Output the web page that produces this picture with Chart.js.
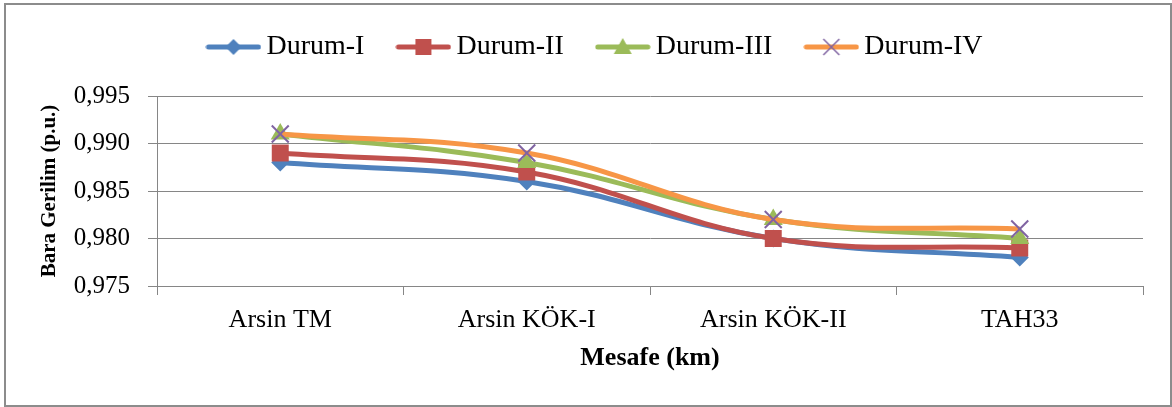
<!DOCTYPE html>
<html>
<head>
<meta charset="utf-8">
<script src="https://cdn.jsdelivr.net/npm/chart.js@4"></script>
<style>
html, body { margin: 0; padding: 0; background: #fff; }
#frame {
    position: absolute; left: 4px; top: 3px;
    width: 1168px; height: 404px;
    border: 2px solid #8c8c8c; box-sizing: border-box;
}
</style>
</head>
<body>
<div id="frame"><canvas id="gerilimChart"></canvas></div>
<script>
// Veriler
const kategoriler = ['Arsin TM', 'Arsin KÖK-I', 'Arsin KÖK-II', 'TAH33'];
const durumI   = [0.988, 0.986, 0.980, 0.978];
const durumII  = [0.989, 0.987, 0.980, 0.979];
const durumIII = [0.991, 0.988, 0.982, 0.980];
const durumIV  = [0.991, 0.989, 0.982, 0.981];
const yTicks = [0.975, 0.980, 0.985, 0.990, 0.995];

const mavi = '#4F81BD', kirmizi = '#C0504D', yesil = '#9BBB59', turuncu = '#F79646', mor = '#8064A2';
const fontAile = "'Liberation Serif', 'Times New Roman', serif";

// Lejant ikonu: çizgi + işaret
function lejantIkonu(renk, isaret) {
    const c = document.createElement('canvas');
    c.width = 56; c.height = 24;
    const ctx = c.getContext('2d');
    ctx.strokeStyle = renk;
    ctx.lineWidth = 5;
    ctx.lineCap = 'round';
    ctx.beginPath(); ctx.moveTo(3, 12); ctx.lineTo(53, 12); ctx.stroke();
    const x = 28, y = 12;
    ctx.fillStyle = renk;
    ctx.beginPath();
    if (isaret === 'elmas') {
        ctx.moveTo(x - 8, y); ctx.lineTo(x, y - 8); ctx.lineTo(x + 8, y); ctx.lineTo(x, y + 8); ctx.closePath(); ctx.fill();
    } else if (isaret === 'kare') {
        ctx.rect(x - 8, y - 8, 16, 16); ctx.fill();
    } else if (isaret === 'ucgen') {
        ctx.moveTo(x, y - 9); ctx.lineTo(x + 9, y + 7); ctx.lineTo(x - 9, y + 7); ctx.closePath(); ctx.fill();
    } else {
        ctx.strokeStyle = mor; ctx.lineWidth = 1.5; ctx.lineCap = 'butt';
        ctx.moveTo(x - 8, y - 8); ctx.lineTo(x + 8, y + 8);
        ctx.moveTo(x + 8, y - 8); ctx.lineTo(x - 8, y + 8); ctx.stroke();
    }
    return c;
}
const ikonlar = [
    lejantIkonu(mavi, 'elmas'),
    lejantIkonu(kirmizi, 'kare'),
    lejantIkonu(yesil, 'ucgen'),
    lejantIkonu(turuncu, 'carpi')
];

// Lejant yüksekliği ve konumu
const lejantAyar = {
    id: 'lejantAyar',
    beforeInit(chart) {
        const fit = chart.legend.fit;
        chart.legend.fit = function () {
            fit.bind(chart.legend)();
            this.height = 91;
        };
    },
    afterLayout(chart) {
        chart.legend.left += 24;
        chart.legend.right += 24;
        chart.legend.top -= 12;
        chart.legend.bottom -= 12;
    }
};

const ctx = document.getElementById('gerilimChart').getContext('2d');
const gerilimChart = new Chart(ctx, {
    type: 'line',
    data: {
        labels: kategoriler,
        datasets: [{
            label: 'Durum-I',
            data: durumI,
            borderColor: mavi,
            backgroundColor: mavi,
            pointStyle: 'rectRot',
            pointRadius: 9,
            order: 3
        }, {
            label: 'Durum-II',
            data: durumII,
            borderColor: kirmizi,
            backgroundColor: kirmizi,
            pointStyle: 'rect',
            pointRadius: 12,
            order: 2
        }, {
            label: 'Durum-III',
            data: durumIII,
            borderColor: yesil,
            backgroundColor: yesil,
            pointStyle: 'triangle',
            pointRadius: 11,
            order: 1
        }, {
            label: 'Durum-IV',
            data: durumIV,
            borderColor: turuncu,
            backgroundColor: mor,
            pointStyle: 'crossRot',
            pointRadius: 12,
            pointBorderColor: mor,
            pointBorderWidth: 2,
            order: 0
        }]
    },
    options: {
        responsive: true,
        maintainAspectRatio: false,
        animation: false,
        layout: {
            padding: { left: 0, right: 27, top: 0, bottom: 0 }
        },
        elements: {
            line: { tension: 0.4, borderWidth: 5, fill: false },
            point: { borderWidth: 0, hoverRadius: 10 }
        },
        scales: {
            x: {
                offset: true,
                afterFit(scale) { scale.height = 119; },
                grid: {
                    offset: true,
                    drawOnChartArea: false,
                    tickLength: 9,
                    color: '#868686'
                },
                border: { display: true, color: '#868686' },
                ticks: {
                    color: '#000',
                    padding: 10,
                    font: { family: fontAile, size: 26 }
                },
                title: {
                    display: true,
                    text: 'Mesafe (km)',
                    color: '#000',
                    padding: { top: 0, bottom: 31 },
                    font: { family: fontAile, size: 26, weight: 'bold' }
                }
            },
            y: {
                min: yTicks[0],
                max: yTicks[yTicks.length - 1],
                afterFit(scale) { scale.width = 151; },
                afterBuildTicks(scale) { scale.ticks = yTicks.map(v => ({ value: v })); },
                grid: {
                    color: '#868686',
                    tickLength: 9
                },
                border: { display: true, color: '#868686' },
                ticks: {
                    color: '#000',
                    padding: 18,
                    font: { family: fontAile, size: 25 },
                    callback: v => v.toFixed(3).replace('.', ',')
                },
                title: {
                    display: true,
                    text: 'Bara Gerilim (p.u.)',
                    color: '#000',
                    padding: { top: 31, bottom: 0 },
                    font: { family: fontAile, size: 21, weight: 'bold' }
                }
            }
        },
        plugins: {
            legend: {
                position: 'top',
                labels: {
                    usePointStyle: true,
                    pointStyleWidth: 38,
                    padding: 40,
                    color: '#000',
                    font: { family: fontAile, size: 28 },
                    generateLabels: chart => chart.data.datasets.map((ds, i) => ({
                        text: ds.label,
                        pointStyle: ikonlar[i],
                        fillStyle: 'transparent',
                        strokeStyle: 'transparent',
                        lineWidth: 0,
                        hidden: false,
                        datasetIndex: i,
                        fontColor: '#000'
                    }))
                }
            },
            tooltip: { enabled: false }
        }
    },
    plugins: [lejantAyar]
});
</script>
</body>
</html>
